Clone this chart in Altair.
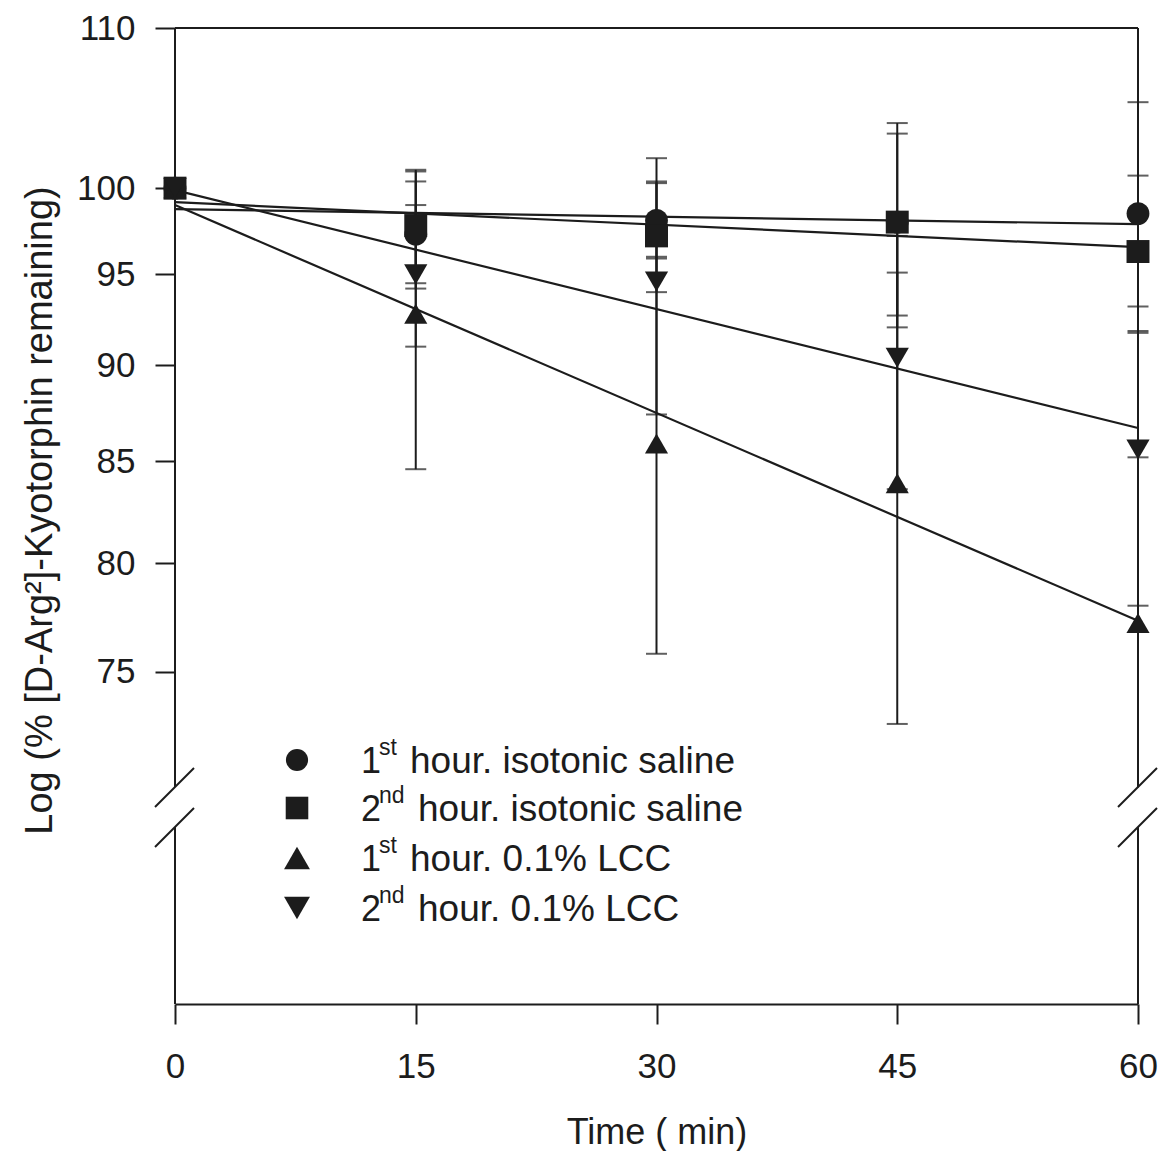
import altair as alt
import pandas as pd

FONT = "Liberation Sans"
INK = "#1c1c1c"

# ---- data -------------------------------------------------------------
times = [0, 15, 30, 45, 60]

series = [
    "1st hour. isotonic saline",
    "2nd hour. isotonic saline",
    "1st hour. 0.1% LCC",
    "2nd hour. 0.1% LCC",
]

saline_1st_mean = [100, 97.3, 98.1, 98.0, 98.5]
saline_1st_sd = [0, 3.1, 2.2, 5.95, 6.75]
saline_2nd_mean = [100, 97.8, 97.2, 98.0, 96.3]
saline_2nd_sd = [0, 3.3, 3.2, 5.3, 4.45]
lcc_1st_mean = [100, 92.8, 85.9, 83.9, 77.2]
lcc_1st_sd = [0, 8.2, 10.1, 11.2, 8.0]
lcc_2nd_mean = [100, 95.0, 94.6, 90.4, 85.6]
lcc_2nd_sd = [0, 4.0, 7.2, 6.8, 7.6]

# fitted first-order decay lines (value at 0 min and at 60 min)
fit_times = [0, 60]
saline_1st_fit = [98.76, 97.88]
saline_2nd_fit = [99.17, 96.55]
lcc_1st_fit = [99.0, 77.3]
lcc_2nd_fit = [99.88, 86.7]

x_ticks = [0, 15, 30, 45, 60]
y_ticks = [75, 80, 85, 90, 95, 100, 110]

legend_ordinal = ["1", "2", "1", "2"]
legend_suffix = ["st", "nd", "st", "nd"]
legend_rest = ["hour. isotonic saline", "hour. isotonic saline",
               "hour. 0.1% LCC", "hour. 0.1% LCC"]

# ---- scale / layout constants -----------------------------------------
Y_MIN, Y_MAX = 61.54, 110
BREAK_TOP = 70.0          # error bars stop where the y axis is broken
W, H = 963, 976
GAP_TOP, GAP_BOTTOM = 759, 799   # pixel extent of the axis break

shapes = ["circle", "square", "triangle-up", "triangle-down"]
marker_sizes = [520, 540, 700, 700]

means = [saline_1st_mean, saline_2nd_mean, lcc_1st_mean, lcc_2nd_mean]
sds = [saline_1st_sd, saline_2nd_sd, lcc_1st_sd, lcc_2nd_sd]
fits = [saline_1st_fit, saline_2nd_fit, lcc_1st_fit, lcc_2nd_fit]

rows, caps, fit_rows = [], [], []
for name, m_list, s_list, f_list in zip(series, means, sds, fits):
    for t, m, s in zip(times, m_list, s_list):
        lower = max(m - s, BREAK_TOP)
        rows.append(dict(series=name, time=t, mean=m, sd=s,
                         upper=m + s, lower=lower))
        if s > 0:
            caps.append(dict(series=name, time=t, cap=m + s))
            if m - s >= BREAK_TOP:
                caps.append(dict(series=name, time=t, cap=m - s))
    for t, f in zip(fit_times, f_list):
        fit_rows.append(dict(series=name, time=t, fit=f))

points = pd.DataFrame(rows)
bars = points[points["sd"] > 0]
caps = pd.DataFrame(caps)
fit_df = pd.DataFrame(fit_rows)
one = pd.DataFrame({"k": [0]})

# ---- scales and axes --------------------------------------------------
x_scale = alt.Scale(domain=[0, 60], nice=False, zero=False)
y_scale = alt.Scale(type="log", domain=[Y_MIN, Y_MAX], nice=False, zero=False)

x_axis = alt.Axis(
    values=x_ticks, format="d", title="Time ( min)",
    tickSize=20, tickWidth=2, tickColor=INK,
    domain=True, domainWidth=2, domainColor=INK,
    labelFontSize=35, labelPadding=25, labelFlush=False,
    titleFontSize=36, titleFontWeight="normal",
    titleY=139, titleBaseline="alphabetic", grid=False,
)
y_axis = alt.Axis(
    values=y_ticks, format="d",
    title="Log (% [D-Arg²]-Kyotorphin remaining)",
    tickSize=20, tickWidth=2, tickColor=INK, domain=False,
    labelFontSize=35, labelPadding=20, labelFlush=False,
    titleFontSize=38, titleFontWeight="normal",
    titleX=-124, titleY=482, titleBaseline="alphabetic", titleAngle=-90,
    grid=False,
)


def X(field):
    return alt.X(field, type="quantitative", scale=x_scale, axis=x_axis)


def Y(field):
    return alt.Y(field, type="quantitative", scale=y_scale, axis=y_axis)


# ---- data layers ------------------------------------------------------
fit_lines = alt.Chart(fit_df).mark_line(color=INK, strokeWidth=2.2).encode(
    x=X("time"), y=Y("fit"), detail="series:N"
)

err_rules = alt.Chart(bars).mark_rule(color=INK, strokeWidth=2).encode(
    x=X("time"), y=Y("lower"), y2="upper"
)

err_caps = alt.Chart(caps).mark_tick(
    orient="horizontal", size=21, thickness=2, color=INK
).encode(x=X("time"), y=Y("cap"))

markers = alt.Chart(points).mark_point(filled=True, opacity=1, color=INK).encode(
    x=X("time"),
    y=Y("mean"),
    shape=alt.Shape("series:N", scale=alt.Scale(domain=series, range=shapes), legend=None),
    size=alt.Size("series:N", scale=alt.Scale(domain=series, range=marker_sizes), legend=None),
)

# ---- frame with broken left/right axes --------------------------------
def seg(x1, y1, x2=None, y2=None):
    enc = dict(x=alt.value(x1), y=alt.value(y1))
    if x2 is not None:
        enc["x2"] = alt.value(x2)
    if y2 is not None:
        enc["y2"] = alt.value(y2)
    return alt.Chart(one).mark_rule(color=INK, strokeWidth=2).encode(**enc)


frame = [
    seg(0, 0, x2=W),                       # top border
    seg(0, 0, y2=GAP_TOP), seg(0, GAP_BOTTOM, y2=H),
    seg(W, 0, y2=GAP_TOP), seg(W, GAP_BOTTOM, y2=H),
]
for xa in (0, W):
    for yc in (GAP_TOP, GAP_BOTTOM):
        frame.append(seg(xa - 20, yc + 20, x2=xa + 19, y2=yc - 19))

# ---- legend -----------------------------------------------------------
legend = []
row_base = [745, 793, 843, 893]
rest_x = {"st": 235, "nd": 243}
for i in range(4):
    b = row_base[i]
    legend.append(
        alt.Chart(one).mark_point(
            shape=shapes[i], filled=True, opacity=1, color=INK, size=marker_sizes[i] - 30
        ).encode(x=alt.value(122), y=alt.value(b - 13))
    )
    legend.append(
        alt.Chart(one).mark_text(
            align="left", baseline="alphabetic", font=FONT, fontSize=36, color=INK
        ).encode(x=alt.value(186), y=alt.value(b), text=alt.value(legend_ordinal[i]))
    )
    legend.append(
        alt.Chart(one).mark_text(
            align="left", baseline="alphabetic", font=FONT, fontSize=23, color=INK
        ).encode(x=alt.value(204), y=alt.value(b - 18), text=alt.value(legend_suffix[i]))
    )
    legend.append(
        alt.Chart(one).mark_text(
            align="left", baseline="alphabetic", font=FONT, fontSize=37, color=INK
        ).encode(x=alt.value(rest_x[legend_suffix[i]]), y=alt.value(b),
                 text=alt.value(legend_rest[i]))
    )

chart = alt.layer(
    fit_lines, err_rules, err_caps, markers, *frame, *legend
).properties(
    width=W, height=H,
    padding={"left": 175, "top": 28, "right": 24, "bottom": 147},
    autosize=alt.AutoSizeParams(type="none"),
    background="white",
).configure_view(stroke=None).configure_axis(
    labelFont=FONT, titleFont=FONT, labelColor=INK, titleColor=INK
)

chart.save("out.html", embed_options={"renderer": "svg", "actions": False})
